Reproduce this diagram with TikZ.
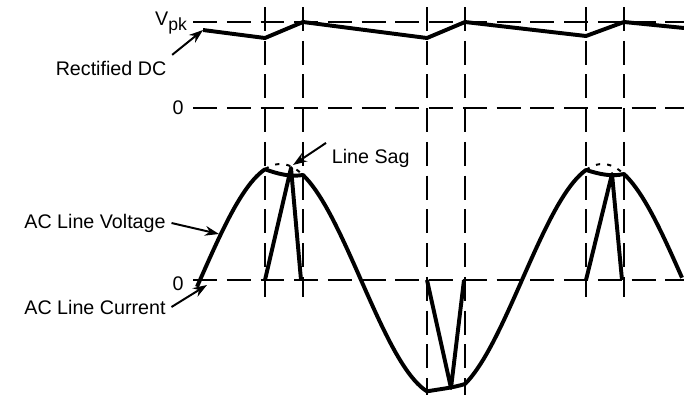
\documentclass[tikz,border=0pt]{standalone}
\usepackage{fontspec}
\setsansfont{Liberation Sans}
\usepackage{tikz}
\usetikzlibrary{arrows.meta}
\tikzset{every picture/.style={/utils/exec={\sffamily}}}

\begin{document}
\begin{tikzpicture}[x=0.025cm, y=-0.025cm, >=Stealth,
        every node/.style={font=\sffamily\fontsize{14}{16}\selectfont, inner sep=4pt},
        grid/.style={line width=1.9pt, dash pattern=on 17pt off 7pt},
        wave/.style={line width=2.8pt, line join=round},
        ideal/.style={line width=1.4pt, dash pattern=on 3pt off 5pt},
        pointer/.style={line width=1.4pt, ->, >={Stealth[length=10pt, width=7pt]}},
        declare function={vac(\t)=280-116*sin((\t-200)/161*180);}]
        \useasboundingbox (0,0) rectangle (684,395);

        % Labels
        \node (vpk) at (171,23) {V\raisebox{-0.5ex}{\fontsize{12.5}{12}\selectfont pk}};
        \node (zdc) at (178,108) {0};
        \node (rdc) at (111,68) {Rectified DC};
        \node[anchor=west] (sag) at (326,158) {Line Sag};
        \node (lv) at (95,223) {AC Line Voltage};
        \node (zac) at (178,284) {0};
        \node (lc) at (95,307) {AC Line Current};

        % Dashed grid
        \draw[grid] (193,22) -- (684,22);
        \draw[grid] (193,108) -- (684,108);
        \draw[grid] (193,280) -- (684,280);
        \foreach \x in {265,303,586,624}
            \draw[grid] (\x,7) -- (\x,297);
        \foreach \x in {427,465}
            \draw[grid] (\x,7) -- (\x,395);

        % Rectified DC
        \draw[wave] (203,30) -- (265,38) -- (303,22) -- (427,38) -- (465,22) -- (586,36) -- (624,22) -- (684,28);

        % AC line voltage, with sag at the peaks
        \draw[ideal] plot[domain=265:303, samples=15] (\x,{vac(\x)});
        \draw[ideal] plot[domain=586:624, samples=15] (\x,{vac(\x)});
        \draw[wave] plot[domain=197:265, samples=25] (\x,{vac(\x)})
            .. controls (278,174) and (290,177) .. (303,175)
            -- plot[domain=303:427, samples=40] (\x,{vac(\x)})
            .. controls (440,389) and (452,388) .. (465,384)
            -- plot[domain=465:586, samples=40] (\x,{vac(\x)})
            .. controls (599,174) and (611,177) .. (624,174)
            -- plot[domain=624:682, samples=20] (\x,{vac(\x)});

        % AC line current pulses
        \draw[wave] (265,280) -- (291,168) -- (301,280);
        \draw[wave] (427,280) -- (451,388) -- (464,280);
        \draw[wave] (586,280) -- (612,174) -- (622,280);

        % Pointers
        \coordinate (dcstart) at (203,30);
        \coordinate (sagpt) at (293,165);
        \coordinate (vpt) at (219,234);
        \coordinate (ipt) at (207,285);
        \draw[pointer] (rdc.north east) -- (dcstart);
        \draw[pointer] (sag.north west) -- (sagpt);
        \draw[pointer] (lv.east) -- (vpt);
        \draw[pointer] (lc.east) -- (ipt);
    \end{tikzpicture}
\end{document}
